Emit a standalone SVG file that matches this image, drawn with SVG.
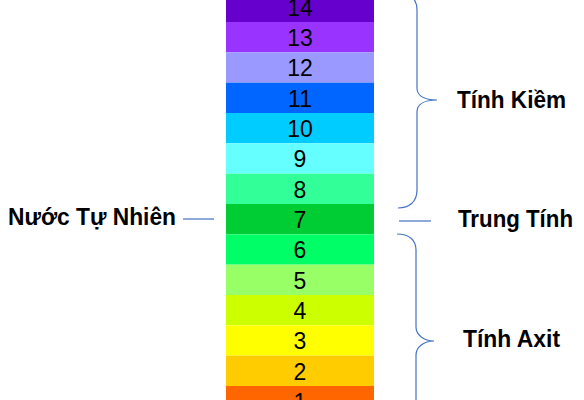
<svg xmlns="http://www.w3.org/2000/svg" width="584" height="400" viewBox="0 0 584 400">
<style>
.num{font-family:"Liberation Sans",Arial,sans-serif;font-size:23px;fill:#000;text-anchor:middle}
.lbl{font-family:"Liberation Sans",Arial,sans-serif;font-size:24px;font-weight:bold;fill:#000}
.conn{fill:none;stroke:#4472C4;stroke-width:1.2}
</style>
<rect width="584" height="400" fill="#fff"/>
<g id="scale">
<g id="ph14"><rect x="226" y="-8.33" width="148" height="30.33" fill="#6600CC"/><text class="num" x="300" y="15.7">14</text></g>
<g id="ph13"><rect x="226" y="22" width="148" height="30.33" fill="#9933FF"/><text class="num" x="300" y="46">13</text></g>
<g id="ph12"><rect x="226" y="52.33" width="148" height="30.33" fill="#9999FF"/><text class="num" x="300" y="76.3">12</text></g>
<g id="ph11"><rect x="226" y="82.67" width="148" height="30.33" fill="#0066FF"/><text class="num" x="300" y="106.7">11</text></g>
<g id="ph10"><rect x="226" y="113" width="148" height="30.33" fill="#00CCFF"/><text class="num" x="300" y="137">10</text></g>
<g id="ph9"><rect x="226" y="143.33" width="148" height="30.33" fill="#66FFFF"/><text class="num" x="300" y="167.3">9</text></g>
<g id="ph8"><rect x="226" y="173.67" width="148" height="30.33" fill="#33FF99"/><text class="num" x="300" y="197.7">8</text></g>
<g id="ph7"><rect x="226" y="204" width="148" height="30.33" fill="#00CC33"/><text class="num" x="300" y="228">7</text></g>
<g id="ph6"><rect x="226" y="234.33" width="148" height="30.33" fill="#00FF66"/><text class="num" x="300" y="258.3">6</text></g>
<g id="ph5"><rect x="226" y="264.67" width="148" height="30.33" fill="#99FF66"/><text class="num" x="300" y="288.7">5</text></g>
<g id="ph4"><rect x="226" y="295" width="148" height="30.33" fill="#CCFF00"/><text class="num" x="300" y="319">4</text></g>
<g id="ph3"><rect x="226" y="325.33" width="148" height="30.33" fill="#FFFF00"/><text class="num" x="300" y="349.3">3</text></g>
<g id="ph2"><rect x="226" y="355.67" width="148" height="30.33" fill="#FFCC00"/><text class="num" x="300" y="379.7">2</text></g>
<g id="ph1"><rect x="226" y="386" width="148" height="30.33" fill="#FF6600"/><text class="num" x="300" y="410">1</text></g>
</g>
<g id="label-natural"><text class="lbl" x="8" y="225" textLength="168" lengthAdjust="spacingAndGlyphs">Nước Tự Nhiên</text></g>
<g id="label-alkaline"><text class="lbl" x="457" y="108" textLength="109" lengthAdjust="spacingAndGlyphs">Tính Kiềm</text></g>
<g id="label-neutral"><text class="lbl" x="458" y="227" textLength="115" lengthAdjust="spacingAndGlyphs">Trung Tính</text></g>
<g id="label-acid"><text class="lbl" x="463" y="347" textLength="97" lengthAdjust="spacingAndGlyphs">Tính Axit</text></g>
<g id="connectors">
<line class="conn" x1="183" y1="219" x2="214" y2="219"/>
<line class="conn" x1="399" y1="221" x2="431" y2="221"/>
<path class="conn" d="M398,-8 C409,-8 417,-2 417,10 L417,88 C417,96 425,100 437,100 C425,100 417,104 417,112 L417,190 C417,202 409,208 398,208"/>
<path class="conn" d="M397,234 C409,234 416,240 416,250 L416,327 C416,335 424,341 434,341 C424,341 416,347 416,355 L416,432 C416,442 409,448 397,448"/>
</g>
</svg>
